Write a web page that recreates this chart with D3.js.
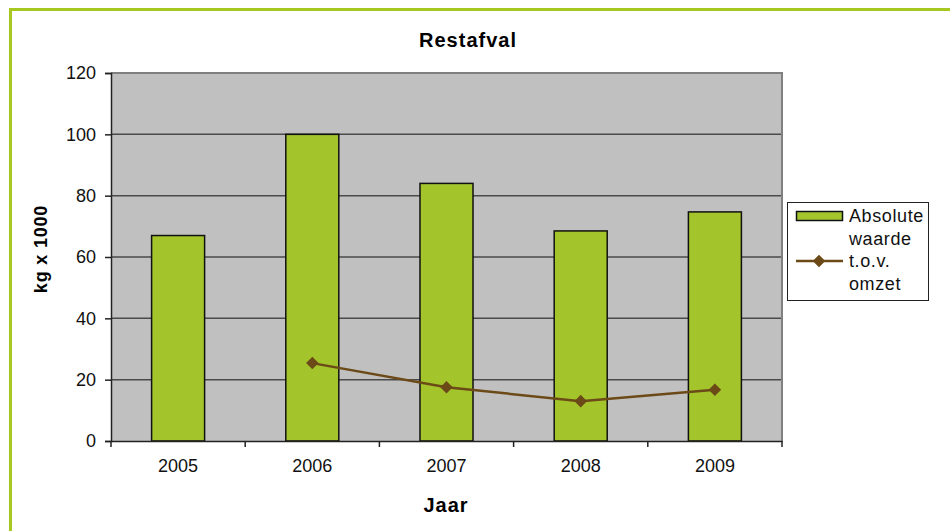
<!DOCTYPE html>
<html>
<head>
<meta charset="utf-8">
<script src="https://cdn.jsdelivr.net/npm/d3@7"></script>
<style>
  html, body { margin: 0; padding: 0; background: #fff; overflow: hidden; }
  svg { display: block; font-family: "Liberation Sans", Arial, sans-serif; }
</style>
</head>
<body>
<div id="chart"></div>
<script>
// jaren en waarden (kg x 1000)
const years = ["2005", "2006", "2007", "2008", "2009"]
const absolute = [67, 100, 84, 68.5, 74.7]
// t.o.v. omzet, geen waarde voor 2005
const relative = [null, 25.4, 17.5, 13, 16.7]
const yTicks = [0, 20, 40, 60, 80, 100, 120]
const legendLabels = [["Absolute", "waarde"], ["t.o.v.", "omzet"]]

const width = 950
const height = 531
// plotgebied
const plot = { left: 111, right: 782, top: 73, bottom: 441 }

const svg = d3.select("#chart").append("svg")
  .attr("width", width)
  .attr("height", height)

// groene kader rond de grafiek
svg.append("rect")
  .attr("x", 10.5).attr("y", 9.5)
  .attr("width", width + 20).attr("height", height + 20)
  .attr("fill", "#fff")
  .attr("stroke", "#a6c820")
  .attr("stroke-width", 3)

const x = d3.scaleBand()
  .domain(years)
  .range([plot.left, plot.right])
  .paddingInner(0.605)
  .paddingOuter(0.3025)

const y = d3.scaleLinear()
  .domain([0, 120])
  .range([plot.bottom, plot.top])

// achtergrond plotgebied
svg.append("rect")
  .attr("x", plot.left).attr("y", plot.top)
  .attr("width", plot.right - plot.left)
  .attr("height", plot.bottom - plot.top)
  .attr("fill", "#c0c0c0")

// rasterlijnen
svg.append("g")
  .selectAll("line")
  .data(yTicks.filter(d => d > 0 && d < 120))
  .enter()
  .append("line")
  .attr("x1", plot.left).attr("x2", plot.right)
  .attr("y1", d => y(d)).attr("y2", d => y(d))
  .attr("stroke", "#4a4a4a")
  .attr("stroke-width", 1.5)

// rand boven en rechts
svg.append("path")
  .attr("d", `M${plot.left},${plot.top}H${plot.right}V${plot.bottom}`)
  .attr("fill", "none")
  .attr("stroke", "#808080")
  .attr("stroke-width", 2)

// staven
svg.append("g")
  .selectAll("rect")
  .data(absolute)
  .enter()
  .append("rect")
  .attr("x", (d, i) => x(years[i]))
  .attr("y", d => y(d))
  .attr("width", x.bandwidth())
  .attr("height", d => y(0) - y(d))
  .attr("fill", "#a3c42b")
  .attr("stroke", "#111")
  .attr("stroke-width", 1.5)

// y-as
const yAxis = svg.append("g")
  .attr("transform", `translate(${plot.left},0)`)
  .call(d3.axisLeft(y).tickValues(yTicks).tickSize(6).tickPadding(9))
yAxis.select(".domain").attr("stroke", "#222").attr("stroke-width", 1.5)
yAxis.selectAll(".tick line").attr("stroke", "#222").attr("stroke-width", 1.5)
yAxis.selectAll("text")
  .attr("font-size", 18)
  .attr("fill", "#111")
  .attr("font-family", "Liberation Sans, Arial, sans-serif")

// x-as
const xAxis = svg.append("g")
  .attr("transform", `translate(0,${plot.bottom})`)
  .call(d3.axisBottom(x).tickSize(0).tickPadding(18))
xAxis.select(".domain").attr("stroke", "#222").attr("stroke-width", 1.5)
xAxis.selectAll("text")
  .attr("font-size", 18)
  .attr("fill", "#111")
  .attr("font-family", "Liberation Sans, Arial, sans-serif")
// streepjes op de grenzen tussen de categorieën
const bounds = d3.range(years.length + 1).map(i => x.range()[0] + i * x.step())
xAxis.selectAll(".bound")
  .data(bounds)
  .enter()
  .append("line")
  .attr("class", "bound")
  .attr("x1", d => d).attr("x2", d => d)
  .attr("y1", 0).attr("y2", 6)
  .attr("stroke", "#222")
  .attr("stroke-width", 1.5)

// lijn t.o.v. omzet
const linePts = relative.map((v, i) => ({ year: years[i], v })).filter(d => d.v != null)
const line = d3.line()
  .x(d => x(d.year) + x.bandwidth() / 2)
  .y(d => y(d.v))
svg.append("path")
  .datum(linePts)
  .attr("d", line)
  .attr("fill", "none")
  .attr("stroke", "#6b4a18")
  .attr("stroke-width", 2.5)
const diamond = d3.symbol().type(d3.symbolDiamond2).size(100)
svg.append("g")
  .selectAll("path")
  .data(linePts)
  .enter()
  .append("path")
  .attr("d", diamond)
  .attr("transform", d => `translate(${x(d.year) + x.bandwidth() / 2},${y(d.v)})`)
  .attr("fill", "#6b4a18")

// titels
svg.append("text")
  .attr("x", 468).attr("y", 47)
  .attr("text-anchor", "middle")
  .attr("font-size", 20).attr("font-weight", "bold")
  .attr("letter-spacing", 1)
  .text("Restafval")
svg.append("text")
  .attr("x", 446).attr("y", 512)
  .attr("text-anchor", "middle")
  .attr("font-size", 20).attr("font-weight", "bold")
  .attr("letter-spacing", 1)
  .text("Jaar")
svg.append("text")
  .attr("transform", "translate(47,249) rotate(-90)")
  .attr("text-anchor", "middle")
  .attr("font-size", 18).attr("font-weight", "bold")
  .attr("letter-spacing", 0.8)
  .text("kg x 1000")

// legenda
const lg = svg.append("g")
lg.append("rect")
  .attr("x", 787.5).attr("y", 202.5)
  .attr("width", 141).attr("height", 98)
  .attr("fill", "#fff")
  .attr("stroke", "#222")
  .attr("stroke-width", 1)
lg.append("rect")
  .attr("x", 796.5).attr("y", 211.5)
  .attr("width", 46).attr("height", 9)
  .attr("fill", "#a3c42b")
  .attr("stroke", "#111")
  .attr("stroke-width", 1.5)
lg.append("line")
  .attr("x1", 796).attr("x2", 843)
  .attr("y1", 261).attr("y2", 261)
  .attr("stroke", "#6b4a18").attr("stroke-width", 2.5)
lg.append("path")
  .attr("d", diamond)
  .attr("transform", "translate(819,261)")
  .attr("fill", "#6b4a18")
const legendLines = legendLabels.flat()
lg.selectAll("text.lab")
  .data(legendLines)
  .enter()
  .append("text")
  .attr("class", "lab")
  .attr("x", 849)
  .attr("y", (d, i) => 222 + i * 22.5)
  .attr("font-size", 18)
  .attr("letter-spacing", 0.6)
  .attr("fill", "#111")
  .text(d => d)
</script>
</body>
</html>
